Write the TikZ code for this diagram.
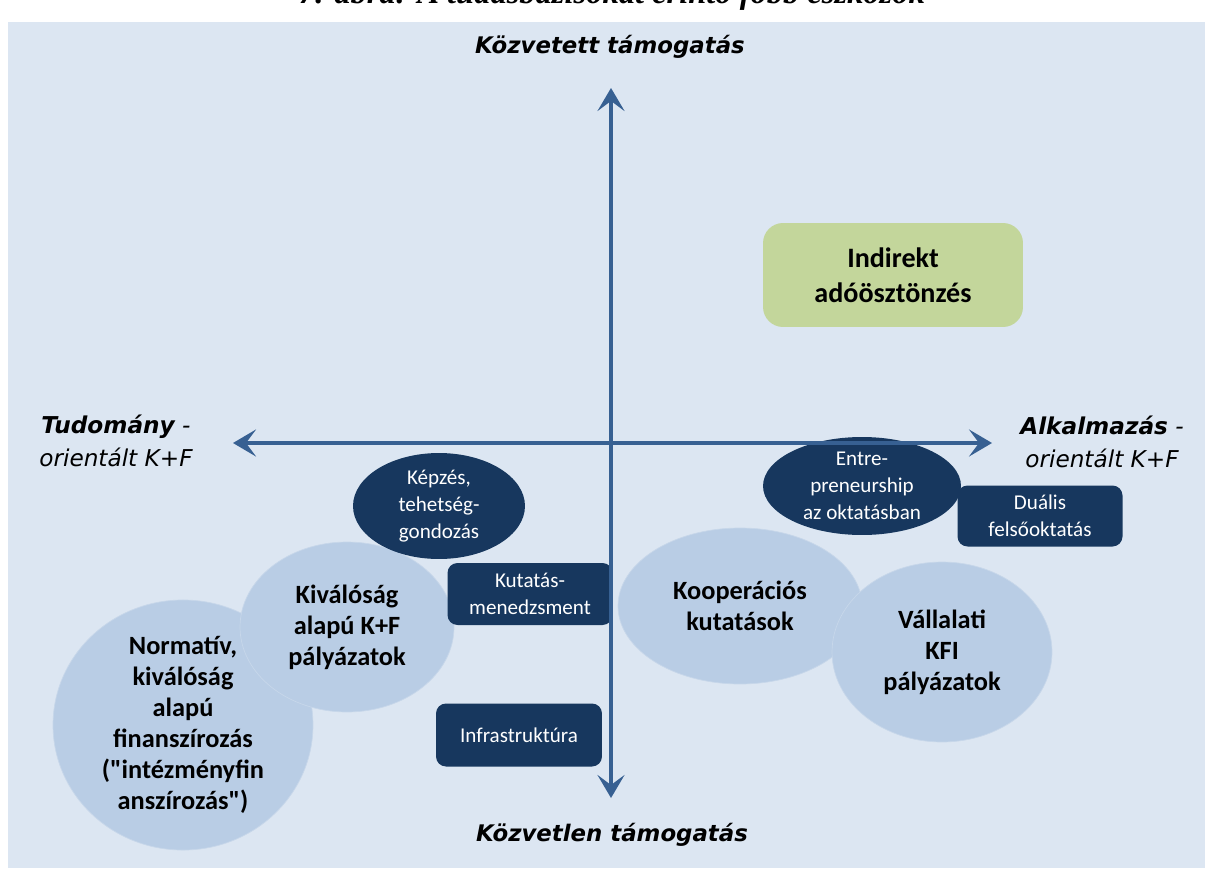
\documentclass[tikz,border=0pt]{standalone}
\usepackage{fontspec}
\setmainfont{Carlito}
\newfontfamily\quotefont{Carlito}[Ligatures=TeXOff]
\newfontfamily\axisfont{DejaVu Sans}
\newfontfamily\captionfont{Liberation Serif}
\usetikzlibrary{shapes.geometric, arrows.meta, positioning}
\definecolor{panelbg}{RGB}{220,230,242}
\definecolor{axisblue}{RGB}{55,96,146}
\definecolor{navy}{RGB}{23,55,94}
\definecolor{paleblue}{RGB}{185,205,229}
\definecolor{olivegreen}{RGB}{195,214,155}
\newcommand{\dq}{{\quotefont"}}

\begin{document}
\begin{tikzpicture}[
        x=0.02cm, y=-0.02cm,
        axis/.style={{Stealth[length=0.46cm, width=0.54cm, inset=0.2cm]}-{Stealth[length=0.46cm, width=0.54cm, inset=0.2cm]}, line width=0.08cm, draw=axisblue},
        axislabel/.style={font=\axisfont\fontsize{13}{16}\selectfont\bfseries\itshape},
        sidelabel/.style={align=center, font=\axisfont\fontsize{13.2}{18.5}\selectfont\itshape},
        lightoval/.style={ellipse, fill=paleblue, draw=paleblue!80!white, line width=0.4pt, inner sep=0pt, align=center, font=\fontsize{15}{17.6}\selectfont\bfseries},
        darkoval/.style={ellipse, fill=navy, text=white, inner sep=0pt, align=center, font=\fontsize{12}{15.3}\selectfont},
        darkbox/.style={rectangle, rounded corners=0.2cm, fill=navy, text=white, inner sep=0pt, align=center, font=\fontsize{12}{15.3}\selectfont}
    ]
        \useasboundingbox (0,0) rectangle (1212,868);

        % Caption (cut off at the top)
        \node[anchor=base, font=\captionfont\fontsize{18.5}{20}\selectfont\bfseries\itshape] (caption) at (612,4) {7. ábra: A tudásbázisokat érintő főbb eszközök};

        % Panel
        \fill[panelbg] (8,22) rectangle (1205,868);

        % Left side: science oriented
        \node[lightoval, minimum width=5.2cm, minimum height=4.8cm] (normativ) at (183,725) {Normatív,\\kiválóság\\alapú\\finanszírozás\\(\dq intézményfin\\anszírozás\dq)};
        \node[lightoval, minimum width=4.28cm, minimum height=3.4cm] (kivalosag) at (347,627) {Kiválóság\\alapú K+F\\pályázatok};
        \node[darkoval, minimum width=3.44cm, minimum height=2.12cm] (kepzes) at (439,506) {Képzés,\\tehetség-\\gondozás};
        \node[darkbox, minimum width=3.3cm, minimum height=1.24cm] (kutatas) at (530,594) {Kutatás-\\menedzsment};
        \node[darkbox, minimum width=3.32cm, minimum height=1.26cm] (infra) at (519,735) {Infrastruktúra};

        % Right side: application oriented
        \node[lightoval, minimum width=4.88cm, minimum height=3.12cm] (kooperacio) at (740,606) {Kooperációs\\kutatások};
        \node[lightoval, minimum width=4.4cm, minimum height=3.6cm] (vallalati) at (942,652) {Vállalati\\KFI\\pályázatok};
        \node[darkoval, minimum width=3.96cm, minimum height=1.96cm] (entre) at (862,486) {Entre-\\preneurship\\az oktatásban};
        \node[darkbox, minimum width=3.3cm, minimum height=1.22cm] (dualis) at (1040,516) {Duális\\felsőoktatás};
        \node[rectangle, rounded corners=0.4cm, fill=olivegreen, minimum width=5.2cm, minimum height=2.08cm, align=center, font=\fontsize{16}{20}\selectfont\bfseries] (indirekt) at (893,275) {Indirekt\\adóösztönzés};

        % Axes
        \coordinate (vtop) at (611,88);
        \coordinate (vbot) at (611,798);
        \coordinate (hleft) at (233,443);
        \coordinate (hright) at (992,443);
        \draw[axis] (vbot) -- (vtop);
        \draw[axis] (hleft) -- (hright);

        % Axis labels
        \node[axislabel] (kozvetett) at (610,47) {Közvetett támogatás};
        \node[axislabel] (kozvetlen) at (612,835) {Közvetlen támogatás};
        \node[sidelabel] (tudomany) at (116,441) {\textbf{Tudomány} -\\orientált K+F};
        \node[sidelabel] (alkalmazas) at (1102,442) {\textbf{Alkalmazás} -\\orientált K+F};
    \end{tikzpicture}
\end{document}
